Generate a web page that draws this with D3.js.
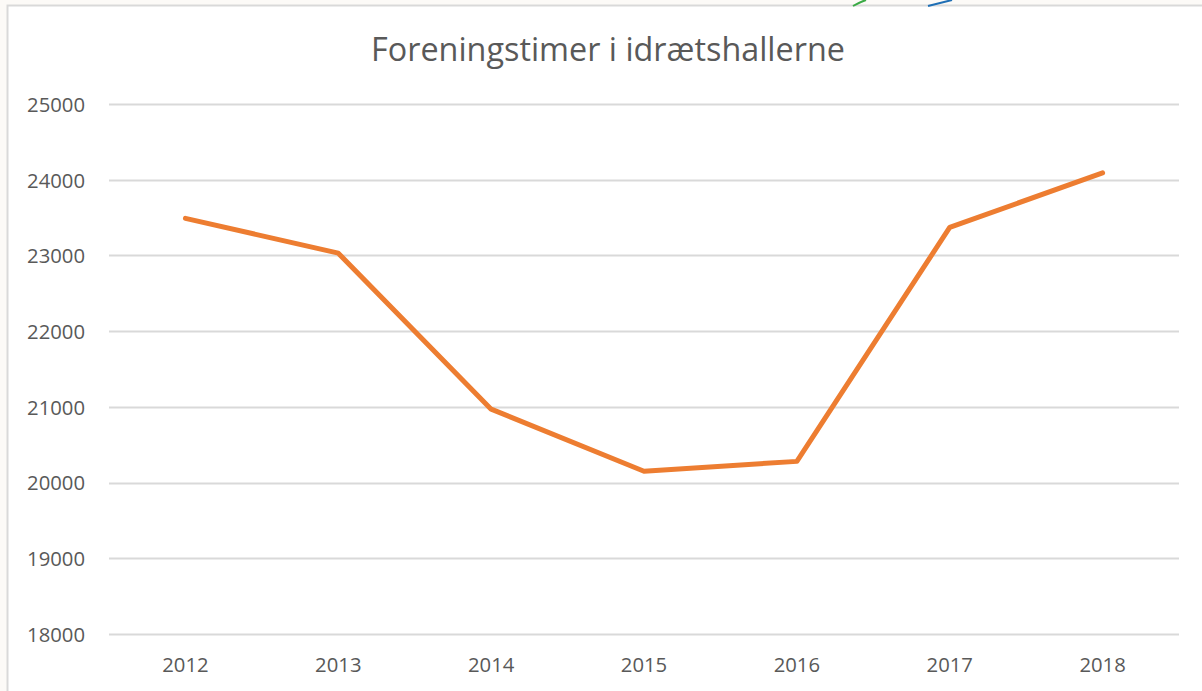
<!DOCTYPE html>
<html>
<head>
<meta charset="utf-8">
<script src="https://cdn.jsdelivr.net/npm/d3@7"></script>
<style>
  html, body { margin: 0; padding: 0; background: #fcfaf7; }
  svg { display: block; }
</style>
</head>
<body>
<svg id="chart" width="1202" height="691"></svg>
<script>
const years = ["2012", "2013", "2014", "2015", "2016", "2017", "2018"];
const hours = [23490, 23030, 20970, 20150, 20280, 23370, 24090];
const yTicks = [18000, 19000, 20000, 21000, 22000, 23000, 24000, 25000];
const title = "Foreningstimer i idrætshallerne";

const svg = d3.select("svg#chart");
const font = "'Open Sans', 'Noto Sans', sans-serif";
const textColor = "#595959";

// fit font size so a piece of text gets a given width
const fitSize = (sel, target) => {
  const base = 20;
  sel.attr("font-size", base);
  const w = sel.node().getComputedTextLength();
  return base * target / w;
};

// chart frame (white area with a grey border on top and left)
svg.append("rect")
  .attr("x", 8).attr("y", 6)
  .attr("width", 1194).attr("height", 685)
  .attr("fill", "#ffffff");
svg.append("path")
  .attr("d", "M7.5,691 V5.5 H1202")
  .attr("fill", "none")
  .attr("stroke", "#d9d9d9")
  .attr("stroke-width", 2);

// bits of a logo peeking in at the top
svg.append("path")
  .attr("d", "M853,6 Q860,2 866,0")
  .attr("fill", "none").attr("stroke", "#3aaa45").attr("stroke-width", 2);
svg.append("path")
  .attr("d", "M928,6 Q940,3 952,0")
  .attr("fill", "none").attr("stroke", "#1f6fb5").attr("stroke-width", 2);

// plot area
const area = { left: 109, right: 1179, top: 104, bottom: 634 };

const x = d3.scaleBand()
  .domain(years)
  .range([area.left, area.right]);

const y = d3.scaleLinear()
  .domain([18000, 25000])
  .range([area.bottom, area.top]);

// title
const titleText = svg.append("text")
  .attr("x", 608).attr("y", 61)
  .attr("text-anchor", "middle")
  .attr("font-family", font)
  .attr("fill", textColor)
  .text(title);
titleText.attr("font-size", fitSize(titleText, 474));

// gridlines
svg.append("g")
  .selectAll("line")
  .data(yTicks)
  .enter()
  .append("line")
  .attr("x1", area.left).attr("x2", area.right)
  .attr("y1", d => Math.round(y(d)) + 0.5)
  .attr("y2", d => Math.round(y(d)) + 0.5)
  .attr("stroke", "#d9d9d9")
  .attr("stroke-width", 2);

// tick label size from the width of "25000" in the picture
const probe = svg.append("text").attr("font-family", font).text("25000");
const tickSize = fitSize(probe, 58);
probe.remove();

// y axis labels
const yAxis = svg.append("g")
  .attr("transform", `translate(${area.left - 24}, 0)`)
  .call(d3.axisLeft(y).tickValues(yTicks).tickSize(0).tickPadding(0).tickFormat(d3.format("d")));
yAxis.select(".domain").remove();
yAxis.selectAll("text")
  .attr("font-family", font)
  .attr("font-size", tickSize)
  .attr("dy", "0.36em")
  .attr("fill", textColor);

// x axis labels
const xAxis = svg.append("g")
  .attr("transform", `translate(0, ${area.bottom})`)
  .call(d3.axisBottom(x).tickSize(0).tickPadding(0));
xAxis.select(".domain").remove();
xAxis.selectAll("text")
  .attr("font-family", font)
  .attr("font-size", tickSize)
  .attr("y", 38)
  .attr("dy", 0)
  .attr("fill", textColor);

// line
const line = d3.line()
  .x((d, i) => x(years[i]) + x.bandwidth() / 2)
  .y(d => y(d));

svg.append("path")
  .datum(hours)
  .attr("d", line)
  .attr("fill", "none")
  .attr("stroke", "#ed7d31")
  .attr("stroke-width", 5)
  .attr("stroke-linecap", "round")
  .attr("stroke-linejoin", "round");
</script>
</body>
</html>
